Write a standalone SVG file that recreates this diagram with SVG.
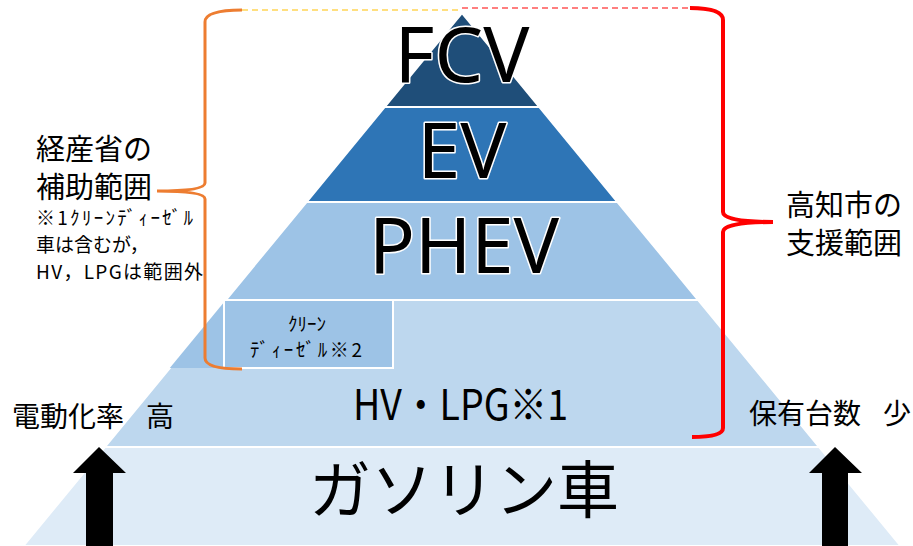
<svg xmlns="http://www.w3.org/2000/svg" width="913" height="546" viewBox="0 0 913 546">
<style>
.band{stroke:#FFFFFF;stroke-width:2}
.big{font-family:"Noto Sans","Noto Sans CJK JP",sans-serif;fill:#000;text-anchor:middle;stroke:#FFFFFF;stroke-width:3;paint-order:stroke;stroke-linejoin:round}
.jp{font-family:"Noto Sans CJK JP",sans-serif;fill:#000}
.mid{text-anchor:middle}
.arrow{fill:#000}
</style>
<g id="pyramid">
<g id="gasoline">
<polygon class="band" points="104.8,447 819.2,447 900.7,546 23.3,546" fill="#DEEBF7"/>
<text class="jp mid" x="464" y="513" font-size="62">ガソリン車</text>
</g>
<g id="hv-lpg">
<polygon class="band" points="225.8,300 698.2,300 819.2,447 104.8,447" fill="#BDD7EE"/>
<text class="jp" x="353" y="420" font-size="42" textLength="215" lengthAdjust="spacingAndGlyphs">HV・LPG※1</text>
</g>
<g id="clean-diesel">
<polygon points="225.8,300 393,300 393,368 169.8,368" fill="#9DC3E6"/>
<rect x="224" y="300" width="169" height="68" fill="#9DC3E6" stroke="#FFFFFF" stroke-width="2"/>
<text class="jp mid" x="307" y="331" font-size="19">ｸﾘｰﾝ</text>
<text class="jp" x="250" y="357" font-size="19" textLength="112" lengthAdjust="spacing">ﾃﾞｨｰｾﾞﾙ※2</text>
</g>
<g id="phev">
<polygon class="band" points="306.5,202 617.5,202 698.2,300 225.8,300" fill="#9DC3E6"/>
<text class="big" x="464" y="273" font-size="76">PHEV</text>
</g>
<g id="ev">
<polygon class="band" points="384.6,107 539.4,107 617.5,202 306.5,202" fill="#2E75B6"/>
<text class="big" x="462" y="178" font-size="77">EV</text>
</g>
<g id="fcv">
<polygon class="band" points="462,13 539.4,107 384.6,107" fill="#1F4E79"/>
<text class="big" x="462" y="82" font-size="77">FCV</text>
</g>
</g>
<g id="connectors">
<line x1="242" y1="10" x2="462" y2="10" stroke="#FFC000" stroke-width="1.2" stroke-dasharray="6,4"/>
<line x1="462" y1="8" x2="690" y2="8" stroke="#FF0000" stroke-width="1.2" stroke-dasharray="6,4"/>
<path d="M242,10 Q205,10 205,22 L205,183 Q205,191 157,191 Q205,191 205,199 L205,358 Q205,369 242,369" fill="none" stroke="#ED7D31" stroke-width="3"/>
<path d="M690,8 Q723,8 723,20 L723,212 Q723,222 773,222 Q723,222 723,232 L723,428 Q723,437 692,437" fill="none" stroke="#FF0000" stroke-width="4"/>
</g>
<g id="meti-label">
<text class="jp" x="36" y="160" font-size="29">経産省の</text>
<text class="jp" x="36" y="198" font-size="29">補助範囲</text>
<text class="jp" x="36" y="225" font-size="19" textLength="157" lengthAdjust="spacing">※1ｸﾘｰﾝﾃﾞｨｰｾﾞﾙ</text>
<text class="jp" x="36" y="252" font-size="19">車は含むが，</text>
<text class="jp" x="36" y="279" font-size="19" textLength="167" lengthAdjust="spacing">HV，LPGは範囲外</text>
</g>
<g id="kochi-label">
<text class="jp" x="786" y="216" font-size="29">高知市の</text>
<text class="jp" x="786" y="254" font-size="29">支援範囲</text>
</g>
<g id="left-axis">
<text class="jp" x="12" y="427" font-size="28">電動化率<tspan x="146">高</tspan></text>
<polygon class="arrow" points="99,447 126,473 113,473 113,546 86,546 86,473 73,473"/>
</g>
<g id="right-axis">
<text class="jp" x="749" y="424" font-size="28">保有台数<tspan x="883">少</tspan></text>
<polygon class="arrow" points="835,447 862,473 848,473 848,546 822,546 822,473 809,473"/>
</g>
</svg>
